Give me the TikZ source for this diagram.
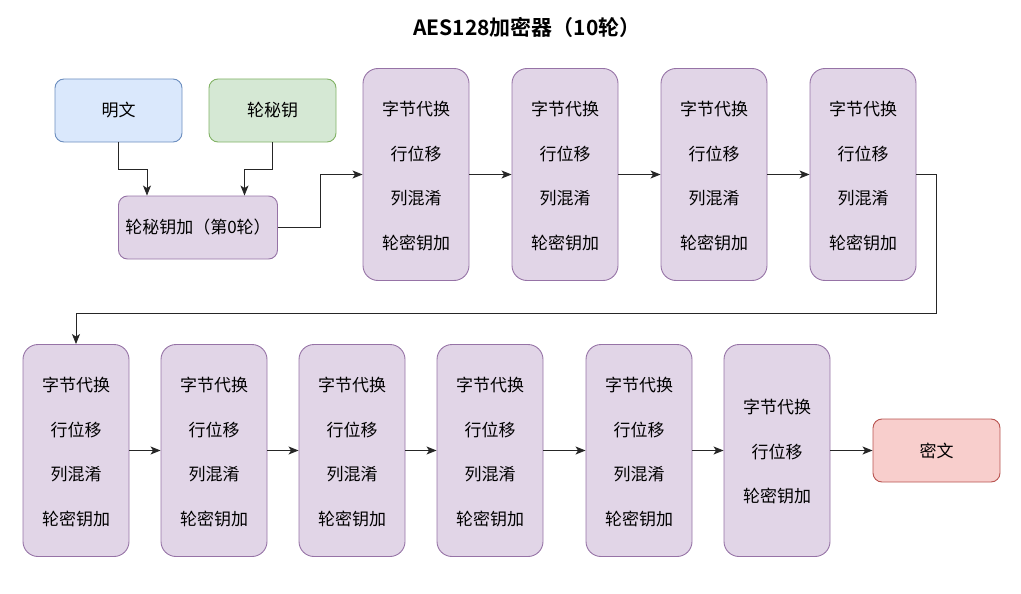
\documentclass[tikz,border=0pt]{standalone}
\usepackage{fontspec}
\setmainfont{Noto Sans CJK SC}
\newfontfamily\titlefont{Noto Sans CJK SC}[BoldFont={Noto Sans CJK SC Bold}]
\usetikzlibrary{arrows.meta}
\definecolor{bluefill}{HTML}{DAE8FC}\definecolor{bluedraw}{HTML}{6C8EBF}
\definecolor{greenfill}{HTML}{D5E8D4}\definecolor{greendraw}{HTML}{82B366}
\definecolor{purplefill}{HTML}{E1D5E7}\definecolor{purpledraw}{HTML}{9673A6}
\definecolor{redfill}{HTML}{F8CECC}\definecolor{reddraw}{HTML}{B85450}
\tikzset{
  box/.style={rectangle, rounded corners=9pt, minimum width=127pt, minimum height=63pt,
    inner sep=0pt, line width=0.9pt, font=\fontsize{17}{20}\selectfont},
  stagetext/.style={align=center, inner sep=0pt, yshift=-1.5pt,
    font=\fontsize{17}{44.5}\selectfont},
  roundbox/.style={rectangle, rounded corners=15pt, minimum width=106pt, minimum height=212pt,
    inner sep=0pt, line width=0.9pt, fill=purplefill, draw=purpledraw,
    label={[stagetext]center:{#1}}},
  flow/.style={line width=0.9pt, draw=black!85, -{Stealth[length=10pt,width=8pt,inset=2.5pt]}},
}
\newcommand{\fullround}{字节代换\\行位移\\列混淆\\轮密钥加}
\newcommand{\lastround}{字节代换\\行位移\\轮密钥加}
\begin{document}
\begin{tikzpicture}[x=1pt,y=-1pt]
\useasboundingbox (0,0) rectangle (1021,594);
\node (title) at (527,27) {\titlefont\bfseries\fontsize{21}{24}\selectfont AES128加密器（10轮）};

\node[box, fill=bluefill, draw=bluedraw] (pt) at (118.5,110.5) {明文};
\node[box, fill=greenfill, draw=greendraw] (key) at (272.5,110.5) {轮秘钥};
\node[box, fill=purplefill, draw=purpledraw, minimum width=159pt] (r0) at (198,227.5) {轮秘钥加（第0轮）};
\node[box, fill=redfill, draw=reddraw] (ct) at (936.5,450.5) {密文};

% first row of rounds
\node[roundbox=\fullround] (r1) at (416,174.5) {};
\node[roundbox=\fullround] (r2) at (565,174.5) {};
\node[roundbox=\fullround] (r3) at (714,174.5) {};
\node[roundbox=\fullround] (r4) at (863,174.5) {};
% second row of rounds
\node[roundbox=\fullround] (r5) at (76,450.5) {};
\node[roundbox=\fullround] (r6) at (214,450.5) {};
\node[roundbox=\fullround] (r7) at (352,450.5) {};
\node[roundbox=\fullround] (r8) at (490,450.5) {};
\node[roundbox=\fullround] (r9) at (639,450.5) {};
\node[roundbox=\lastround] (r10) at (777,450.5) {};

% inputs into the initial key addition
\draw[flow] (pt.south) |- (147,169) -- (r0.north -| 147,0);
\draw[flow] (key.south) |- (244.5,169) -- (r0.north -| 244.5,0);
\draw[flow] (r0.east) -| (320,174.5) -- (r1.west);

\draw[flow] (r1) -- (r2);
\draw[flow] (r2) -- (r3);
\draw[flow] (r3) -- (r4);
\draw[flow] (r4.east) -| (936.5,313) -| (r5.north);
\draw[flow] (r5) -- (r6);
\draw[flow] (r6) -- (r7);
\draw[flow] (r7) -- (r8);
\draw[flow] (r8) -- (r9);
\draw[flow] (r9) -- (r10);
\draw[flow] (r10) -- (ct);
\end{tikzpicture}
\end{document}
